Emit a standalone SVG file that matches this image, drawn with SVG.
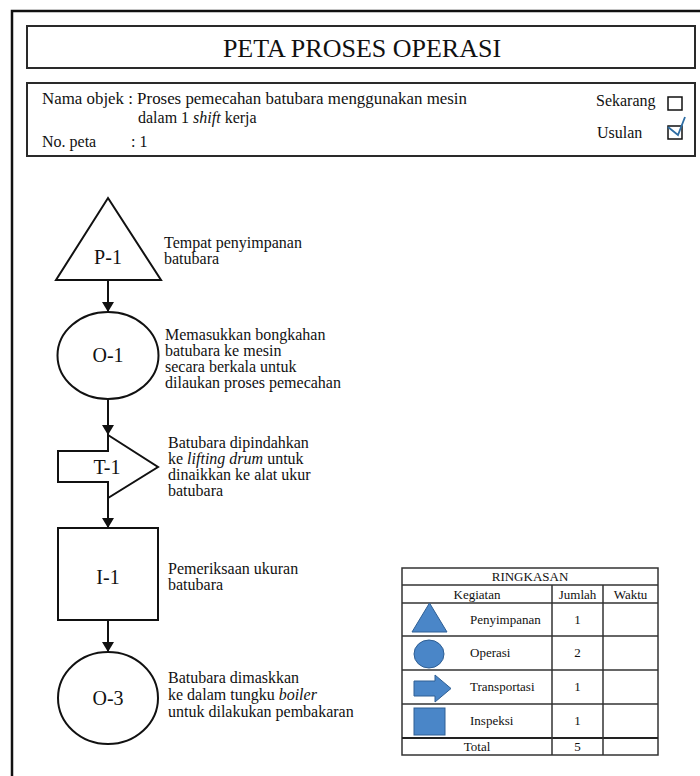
<svg xmlns="http://www.w3.org/2000/svg" width="700" height="776" viewBox="0 0 700 776">
<style>
  text { font-family: "Liberation Serif", "Times New Roman", serif; fill: #111; }
  .box { fill: none; stroke: #2a2a2a; stroke-width: 2; }
  .node { fill: #fff; stroke: #111; stroke-width: 2; }
  .lbl { font-size: 20px; text-anchor: middle; }
  .desc { font-size: 16px; }
  .hdr { font-size: 16px; }
  .conn { stroke: #111; stroke-width: 2; fill: none; marker-end: url(#ah); }
  .tbl { fill: none; stroke: #333; stroke-width: 1.5; }
  .tt { font-size: 13px; }
  .tc { font-size: 13px; text-anchor: middle; }
  .ico { fill: #4a86c8; stroke: #2f5f94; stroke-width: 1; }
</style>
<defs>
  <marker id="ah" viewBox="0 0 10 12" refX="10" refY="6" markerWidth="10" markerHeight="12" markerUnits="userSpaceOnUse" orient="auto">
    <path d="M0,0 L10,6 L0,12 Z" fill="#111"/>
  </marker>
</defs>
<rect width="700" height="776" fill="#fff"/>
<!-- outer border (left and top only visible) -->
<path d="M12,776 V11 H700" fill="none" stroke="#111" stroke-width="2.5"/>

<g id="title">
  <rect class="box" x="27" y="26" width="668" height="42"/>
  <text x="362" y="57" font-size="26" text-anchor="middle">PETA PROSES OPERASI</text>
</g>

<g id="info">
  <rect class="box" x="27" y="83" width="668" height="73"/>
  <text class="hdr" x="42" y="104" textLength="425" lengthAdjust="spacingAndGlyphs">Nama objek : Proses pemecahan batubara menggunakan mesin</text>
  <text class="hdr" x="138" y="123">dalam 1 <tspan font-style="italic">shift</tspan> kerja</text>
  <text class="hdr" x="42" y="147">No. peta</text>
  <text class="hdr" x="131" y="147">: 1</text>
  <text class="hdr" x="596" y="106">Sekarang</text>
  <rect x="668" y="97" width="14" height="13" fill="none" stroke="#111" stroke-width="1.5"/>
  <text class="hdr" x="597" y="138">Usulan</text>
  <rect x="668" y="126" width="14" height="13" fill="none" stroke="#111" stroke-width="1.5"/>
  <path d="M668,127 L678,135 L685,117" fill="none" stroke="#2e6da4" stroke-width="1.8"/>
</g>

<g id="connectors">
  <line class="conn" x1="108" y1="280" x2="108" y2="312"/>
  <line class="conn" x1="108" y1="399" x2="108" y2="435"/>
  <line class="conn" x1="108" y1="498" x2="108" y2="528"/>
  <line class="conn" x1="108" y1="620" x2="108" y2="652"/>
</g>

<g id="P-1">
  <polygon class="node" points="108,198 161,280 56,280"/>
  <text class="lbl" x="108" y="264">P-1</text>
  <text class="desc" x="164" y="248">Tempat penyimpanan</text>
  <text class="desc" x="164" y="264">batubara</text>
</g>

<g id="O-1">
  <ellipse class="node" cx="108" cy="355.5" rx="50.5" ry="43.5"/>
  <text class="lbl" x="108" y="362">O-1</text>
  <text class="desc" x="165" y="340">Memasukkan bongkahan</text>
  <text class="desc" x="165" y="356">batubara ke mesin</text>
  <text class="desc" x="165" y="372">secara berkala untuk</text>
  <text class="desc" x="165" y="388">dilaukan proses pemecahan</text>
</g>

<g id="T-1">
  <path class="node" d="M58,451 H108 V435 L158,467 L108,498 V482 H58 Z"/>
  <text class="lbl" x="107" y="474">T-1</text>
  <text class="desc" x="168" y="448">Batubara dipindahkan</text>
  <text class="desc" x="168" y="464">ke <tspan font-style="italic">lifting drum</tspan> untuk</text>
  <text class="desc" x="168" y="480">dinaikkan ke alat ukur</text>
  <text class="desc" x="168" y="496">batubara</text>
</g>

<g id="I-1">
  <rect class="node" x="58" y="528" width="100" height="92"/>
  <text class="lbl" x="108" y="584">I-1</text>
  <text class="desc" x="168" y="574">Pemeriksaan ukuran</text>
  <text class="desc" x="168" y="590">batubara</text>
</g>

<g id="O-3">
  <ellipse class="node" cx="108" cy="698" rx="50" ry="46"/>
  <text class="lbl" x="108" y="705">O-3</text>
  <text class="desc" x="168" y="683">Batubara dimaskkan</text>
  <text class="desc" x="168" y="700">ke dalam tungku <tspan font-style="italic">boiler</tspan></text>
  <text class="desc" x="168" y="717">untuk dilakukan pembakaran</text>
</g>

<g id="ringkasan">
  <rect class="tbl" x="402" y="568" width="256" height="187"/>
  <line class="tbl" x1="402" y1="585" x2="658" y2="585"/>
  <line class="tbl" x1="402" y1="603" x2="658" y2="603"/>
  <line class="tbl" x1="402" y1="636" x2="658" y2="636"/>
  <line class="tbl" x1="402" y1="670" x2="658" y2="670"/>
  <line class="tbl" x1="402" y1="704" x2="658" y2="704"/>
  <line x1="402" y1="738" x2="658" y2="738" stroke="#222" stroke-width="2.2"/>
  <line class="tbl" x1="552" y1="585" x2="552" y2="755"/>
  <line class="tbl" x1="603" y1="585" x2="603" y2="755"/>
  <text class="tc" x="530" y="581">RINGKASAN</text>
  <text class="tc" x="477" y="599">Kegiatan</text>
  <text class="tc" x="577.5" y="599">Jumlah</text>
  <text class="tc" x="630.5" y="599">Waktu</text>
  <polygon class="ico" points="429.5,603 447,632 412,632"/>
  <ellipse class="ico" cx="429" cy="654" rx="15" ry="14"/>
  <path class="ico" d="M414,681 H435 V675 L451,688.5 L435,702 V696 H414 Z"/>
  <rect class="ico" x="414" y="708" width="31" height="27"/>
  <text class="tt" x="470" y="624">Penyimpanan</text>
  <text class="tt" x="470" y="657">Operasi</text>
  <text class="tt" x="470" y="691">Transportasi</text>
  <text class="tt" x="470" y="725">Inspeksi</text>
  <text class="tc" x="577.5" y="624">1</text>
  <text class="tc" x="577.5" y="657">2</text>
  <text class="tc" x="577.5" y="691">1</text>
  <text class="tc" x="577.5" y="725">1</text>
  <text class="tc" x="477" y="751">Total</text>
  <text class="tc" x="577.5" y="751">5</text>
</g>
</svg>
